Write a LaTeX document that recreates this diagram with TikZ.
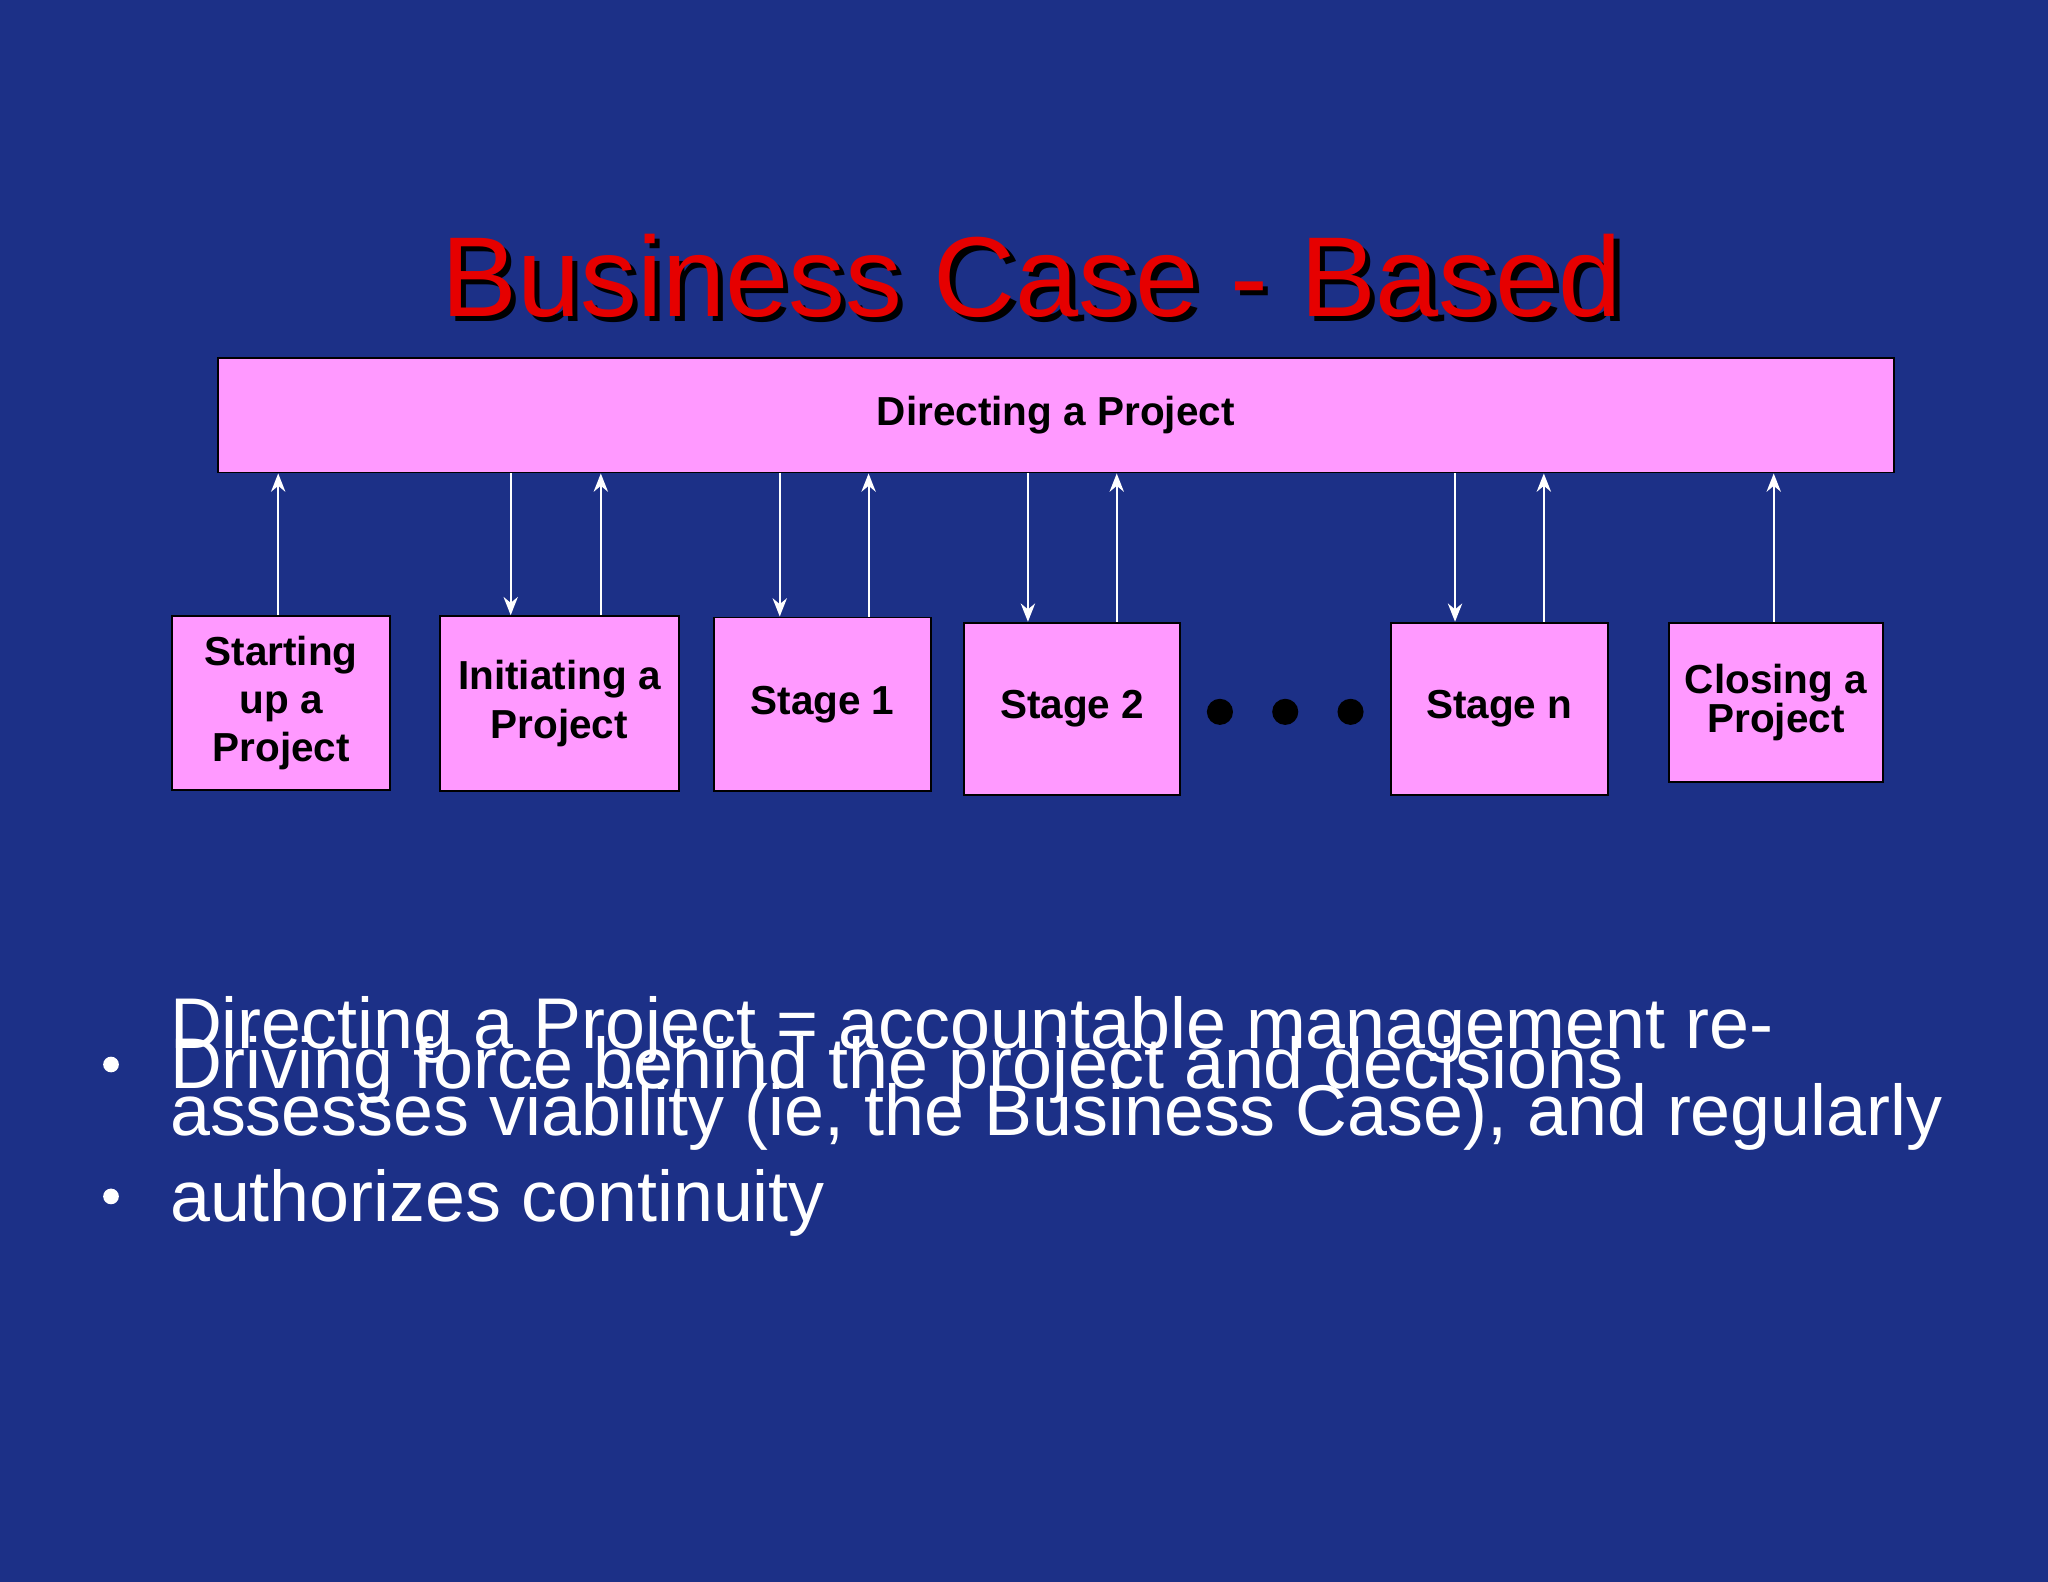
\documentclass[tikz,border=0pt]{standalone}
\usepackage{fontspec}
\setmainfont{Liberation Sans}
\usetikzlibrary{arrows.meta}
\begin{document}
\begin{tikzpicture}[x=1pt,y=-1pt,
 box/.style={draw=black,line width=1.5pt,fill={rgb,255:red,255;green,153;blue,255},font=\bfseries\fontsize{31}{37}\selectfont,align=center,inner sep=0pt},
 arr/.style={white,line width=1.5pt,-{Stealth[length=14pt,width=11pt]}}]
\useasboundingbox (0,0) rectangle (1568,1211);
\begin{scope}[y=1pt]
\shade[shading angle=135,top color={rgb,255:red,28;green,48;blue,135},middle color={rgb,255:red,105;green,128;blue,185},bottom color={rgb,255:red,28;green,48;blue,135}] (0,0) rectangle (1568,-1211);
\end{scope}
\node[font=\fontsize{87}{87}\selectfont,text=black] at (794,215) {Business Case - Based};
\node (t) [font=\fontsize{87}{87}\selectfont,text={rgb,255:red,230;green,0;blue,0}] at (790,211) {Business Case - Based};
\node (d) [box,minimum width=1283,minimum height=88,anchor=north west] at (166,273) {Directing a Project};
\node (s) [box,minimum width=167,minimum height=133,anchor=north west] at (131,471) {Starting\\up a\\Project};
\node (i) [box,minimum width=183,minimum height=134,anchor=north west] at (336,471) {Initiating a\\Project};
\node (s1) [box,minimum width=166,minimum height=133,anchor=north west] at (546,472) {Stage 1};
\node (s2) [box,minimum width=166,minimum height=132,anchor=north west] at (737,476) {Stage 2};
\node (sn) [box,minimum width=166,minimum height=132,anchor=north west] at (1064,476) {Stage n};
\node (c) [box,minimum width=164,minimum height=122,anchor=north west,font=\bfseries\fontsize{31}{28}\selectfont] at (1277,476) {Closing a\\Project};
\foreach \x/\n in {213/s,460/i,665/s1,855/s2,1182/sn,1358/c}
  \draw[arr] (\n.north -| \x,0) -- (d.south -| \x,0);
\foreach \x/\n in {391/i,597/s1,787/s2,1114/sn}
  \draw[arr] (d.south -| \x,0) -- (\n.north -| \x,0);
\foreach \x in {934,984,1034} \fill[black] (\x,545) circle (10);
\node (b1) [anchor=base west,text=white,font=\fontsize{55}{66}\selectfont,inner sep=0pt] at (130,833) {Driving force behind the project and decisions};
\node (b2) [anchor=base west,text=white,font=\fontsize{55}{66}\selectfont,align=left,inner sep=0pt] at (130,935) {Directing a Project = accountable management re-\\assesses viability (ie, the Business Case), and regularly\\authorizes continuity};
\fill[white] (85,815) circle (6);
\fill[white] (85,916) circle (6);
\end{tikzpicture}
\end{document}
